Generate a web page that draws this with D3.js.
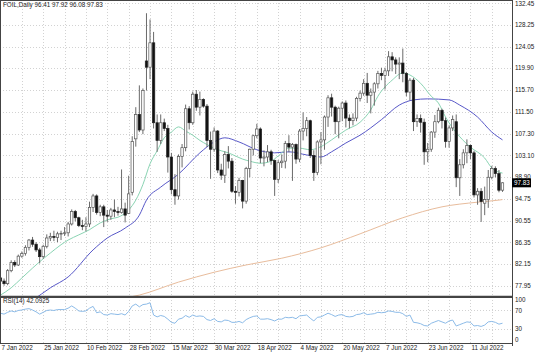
<!DOCTYPE html>
<html><head><meta charset="utf-8">
<script src="https://cdn.jsdelivr.net/npm/d3@7"></script>
<style>
body{margin:0;background:#fff}
svg{display:block}
text{font-family:"Liberation Sans",Arial,sans-serif;fill:#222}
</style>
</head><body>
<svg id="chart" width="536" height="355"></svg>
<script>
// ---------------- data ----------------
const symbolTitle = "FOIL,Daily  96.41 97.92 96.08 97.83";
const rsiTitle = "RSI(14) 42.0925";
const lastPrice = 97.83;

const openP = [79.5,78.9,78.4,80.9,82.5,82.0,83.7,84.2,85.4,86.8,86.0,84.9,83.6,85.6,87.2,87.5,87.3,88.0,88.1,88.2,
89.9,92.3,91.1,89.6,89.4,89.9,93.1,95.3,92.1,93.2,91.6,91.4,92.6,92.3,92.1,92.8,91.9,96.0,106.3,111.0,
108.0,121.3,120.1,124.8,109.4,106.0,109.4,108.3,102.8,96.5,95.3,102.9,104.6,112.1,109.4,114.9,112.4,113.9,112.6,106.0,
104.3,107.8,100.3,99.3,103.3,102.0,96.2,96.0,98.3,94.3,100.6,104.3,106.9,108.2,102.6,102.8,103.8,102.1,98.5,101.7,
102.0,105.4,104.7,105.2,102.4,107.8,108.3,109.8,103.1,99.8,105.7,106.1,110.5,114.2,112.4,109.6,112.2,113.2,110.3,109.8,
110.3,114.1,115.1,117.0,114.7,115.3,116.9,118.9,118.5,119.4,122.1,121.5,120.7,120.9,118.9,115.3,117.6,109.6,110.2,109.5,
103.8,104.3,107.6,109.6,111.8,109.8,105.8,108.4,109.6,98.8,101.3,103.6,105.0,103.6,95.5,96.2,93.9,94.6,98.9,100.6,
99.6,96.41];
const highP = [80.0,79.4,81.2,82.9,82.9,84.0,84.6,85.8,87.0,87.4,86.4,85.3,85.9,87.9,88.2,88.6,88.4,88.6,89.3,90.3,
92.7,92.6,91.3,90.7,91.2,94.2,95.7,95.6,93.6,93.6,92.6,93.0,94.6,93.2,100.4,94.0,99.2,106.8,112.4,116.6,
116.0,130.5,129.3,126.9,111.0,111.0,110.2,109.0,103.6,99.5,103.3,105.3,112.9,112.6,115.4,115.7,115.4,114.1,113.0,107.7,
108.5,108.0,101.5,103.9,104.9,102.6,97.2,98.8,98.4,100.9,104.4,107.1,109.2,108.5,104.1,105.1,104.2,102.3,102.2,103.3,
105.9,107.0,105.5,105.4,108.2,111.4,110.5,110.0,104.1,106.0,107.6,110.8,114.7,115.0,112.7,112.5,113.5,113.7,111.0,111.2,
114.4,115.6,117.8,119.0,116.0,117.2,119.4,120.0,120.0,123.2,123.0,122.0,122.0,123.7,119.2,118.0,118.0,111.0,111.0,110.2,
105.5,107.8,110.9,112.3,112.1,110.4,108.9,110.8,111.0,102.4,104.3,106.2,105.2,104.0,96.8,96.8,97.1,100.3,101.1,101.0,
100.3,97.92];
const lowP = [78.3,78.0,78.1,80.6,81.6,81.8,83.4,83.8,84.8,85.5,84.5,82.3,83.2,85.2,86.6,86.6,86.4,86.8,87.6,87.5,
89.6,90.4,89.3,88.7,88.5,89.3,92.2,91.7,91.4,89.3,90.3,90.7,91.2,91.5,91.9,90.2,91.8,95.4,104.8,107.6,
107.2,115.6,117.8,108.3,103.8,105.3,107.8,99.8,95.6,93.6,94.6,100.8,103.9,108.1,109.0,111.7,110.8,112.3,104.7,98.6,
103.8,99.7,98.4,97.8,100.6,95.9,93.8,95.2,92.9,93.8,98.9,103.1,106.4,101.6,101.0,101.8,101.3,95.3,97.8,100.7,
100.6,103.7,98.2,101.5,101.8,106.0,106.8,102.6,98.2,99.3,101.4,104.2,108.6,110.6,107.2,106.4,109.7,108.5,108.3,108.9,
109.7,113.5,114.6,113.2,111.2,112.7,116.0,117.6,115.8,118.4,119.3,118.8,117.8,117.2,114.5,113.7,107.8,108.6,107.5,101.3,
101.8,103.8,106.5,109.3,108.3,104.6,104.6,107.8,97.0,95.3,100.6,101.6,102.4,95.0,93.6,90.3,91.6,93.0,98.5,98.9,
96.0,96.08];
const closeP = [78.9,78.4,80.9,82.5,82.0,83.7,84.2,85.4,86.8,86.0,84.9,83.6,85.6,87.2,87.5,87.3,88.0,88.1,88.2,89.9,
92.3,91.1,89.6,89.4,89.9,93.1,95.3,92.1,93.2,91.6,91.4,92.6,92.3,92.1,92.8,91.6,95.7,105.8,111.0,108.0,
115.6,120.1,124.8,109.4,106.0,109.4,108.3,102.8,96.5,95.3,102.9,104.6,112.1,109.4,114.9,112.4,113.9,112.6,106.0,104.3,
107.8,100.3,99.3,103.3,102.0,96.2,96.0,98.3,94.3,100.6,104.3,106.9,108.2,102.6,102.8,103.8,102.1,98.5,101.7,102.0,
105.4,104.7,105.2,102.4,107.8,108.3,109.8,103.1,99.8,105.7,106.1,110.5,114.2,112.4,109.6,112.2,113.2,110.3,109.8,110.3,
114.1,115.1,117.0,114.7,115.3,116.9,118.9,118.5,119.4,122.1,121.5,120.7,120.9,118.9,115.3,117.6,109.6,110.2,109.5,103.8,
104.3,107.6,109.6,111.8,109.8,105.8,108.4,110.0,98.8,101.3,103.6,105.0,103.6,95.5,96.2,94.2,94.6,98.9,100.6,99.6,
96.4,97.83];

// fast moving average (green), read at bar indices
const maFastIdx = [0,3,6,9,12,14,17,19,22,25,28,31,33,36,38,40,42,44,46,48,50,52,54,56,58,60,62,64,66,68,70,73,76,78,81,84,87,90,93,97,101,104,106,110,113,115,118,121,123,125,129,132,136,138,141];
const maFastVal = [76.2,77.6,79.5,81.4,83.2,84.3,85.9,86.8,87.8,88.8,90.1,90.9,91.2,92.6,94.5,97.5,101.5,104.0,106.5,107.6,108.6,107.8,107.0,106.0,105.2,104.5,104.0,103.6,103.0,102.4,102.0,101.6,102.0,103.0,104.5,104.5,104.2,104.8,106.1,108.0,109.5,111.9,114.5,117.6,119.0,118.6,117.0,114.5,113.2,110.5,106.7,104.7,102.6,100.7,99.7];
// medium moving average (blue)
const maMidIdx = [0,5,9,14,19,26,30,35,39,41,45,50,56,60,63,67,72,77,81,86,90,93,97,101,107,112,116,120,126,129,134,138,141];
const maMidVal = [72.0,73.5,75.2,77.6,79.7,84.9,87.2,89.1,91.6,94.5,97.0,99.5,103.6,105.7,106.5,105.7,104.2,103.6,103.8,103.2,102.8,103.8,105.5,107.0,110.0,112.8,113.8,114.0,113.8,112.8,110.5,107.6,106.1];
// slow moving average (orange)
const maSlowIdx = [0,20,34,39,50,60,69,79,90,101,113,124,134,140,141];
const maSlowVal = [70.5,72.5,75.5,76.2,78.7,80.6,82.0,83.3,85.3,88.0,91.1,93.2,94.1,94.5,94.6];

// RSI(14) per bar
const rsiVal = [64,62,66,69,67,70,71,73,74,71,67,62,66,70,71,70,72,72,72,75,
80,75,69,68,69,75,79,65,67,61,60,63,62,61,63,60,68,80,84,78,
83,84,87,60,56,59,57,51,44,42,51,53,59,55,60,57,58,57,50,48,
52,46,45,49,48,44,44,46,43,50,54,57,58,51,51,52,50,47,51,51,
55,54,55,52,58,59,60,53,47,55,56,60,64,61,57,60,61,57,56,57,
61,62,65,61,62,63,66,65,66,69,68,66,66,63,57,60,44,43,41,37,
36,42,45,48,45,42,47,49,36,39,42,45,44,36,37,35,38,45,46,44,
40,42.09];

const priceTicks = [132.45,128.25,124.05,119.90,115.70,111.50,107.30,103.10,98.90,94.75,90.55,86.35,82.15,77.95];
const rsiTicks = [100,70,30,0];
const rsiLevels = [70,30];
const dateLabels = ["7 Jan 2022","25 Jan 2022","10 Feb 2022","28 Feb 2022","15 Mar 2022","30 Mar 2022","18 Apr 2022","4 May 2022","20 May 2022","7 Jun 2022","23 Jun 2022","11 Jul 2022"];
const dateLabelStep = 12;
const gridStep = 6;

// ---------------- layout ----------------
const W = 536, H = 355;
const plotRight = 512;
const mainTop = 0, mainBottom = 296;
const rsiTop = 297, rsiBottom = 343;
const n = closeP.length;

const svg = d3.select("#chart");
svg.append("rect").attr("width", W).attr("height", H).attr("fill", "#fff");

const x = d3.scaleLinear().domain([0, n - 1]).range([0.5, 502.5]);
const y = d3.scaleLinear().domain([77.95, 132.45]).range([286, 3.1]);
const yr = d3.scaleLinear().domain([0, 100]).range([342.4, 296.8]);

const defs = svg.append("defs");
defs.append("clipPath").attr("id", "clipMain").append("rect")
  .attr("x", 0).attr("y", mainTop).attr("width", plotRight).attr("height", mainBottom - mainTop);
defs.append("clipPath").attr("id", "clipRsi").append("rect")
  .attr("x", 0).attr("y", rsiTop).attr("width", plotRight).attr("height", rsiBottom - rsiTop);

const gridColor = "#d2d2d2";
const gridDash = "1,2";

// vertical grid
const vIdx = d3.range(gridStep, n + gridStep, gridStep).filter(i => x(i) < plotRight - 2);
const grid = svg.append("g");
grid.selectAll("line.vg").data(vIdx).join("line")
  .attr("x1", d => Math.round(x(d)) + 0.5).attr("x2", d => Math.round(x(d)) + 0.5)
  .attr("y1", mainTop).attr("y2", rsiBottom)
  .attr("stroke", gridColor).attr("stroke-dasharray", gridDash).attr("stroke-width", 1);
// horizontal grid main
grid.selectAll("line.hg").data(priceTicks).join("line")
  .attr("x1", 0).attr("x2", plotRight)
  .attr("y1", d => Math.round(y(d)) + 0.5).attr("y2", d => Math.round(y(d)) + 0.5)
  .attr("stroke", gridColor).attr("stroke-dasharray", gridDash);
// rsi levels
grid.selectAll("line.rg").data(rsiLevels).join("line")
  .attr("x1", 0).attr("x2", plotRight)
  .attr("y1", d => Math.round(yr(d)) + 0.5).attr("y2", d => Math.round(yr(d)) + 0.5)
  .attr("stroke", gridColor).attr("stroke-dasharray", gridDash);

// moving averages
const main = svg.append("g").attr("clip-path", "url(#clipMain)");
function maLine(idx, vals, color) {
  const pts = idx.map((d, k) => [d, vals[k]]);
  main.append("path").datum(pts)
    .attr("fill", "none").attr("stroke", color).attr("stroke-width", 1)
    .attr("d", d3.line().x(d => x(d[0])).y(d => y(d[1])).curve(d3.curveMonotoneX));
}
maLine(maSlowIdx, maSlowVal, "#e8bc9c");
maLine(maMidIdx, maMidVal, "#5858c8");
maLine(maFastIdx, maFastVal, "#8ad4b3");

// candles
const bars = d3.range(n).map(i => ({i, o: openP[i], h: highP[i], l: lowP[i], c: closeP[i]}));
const cg = main.append("g");
cg.selectAll("line.wick").data(bars).join("line")
  .attr("x1", d => x(d.i)).attr("x2", d => x(d.i))
  .attr("y1", d => y(d.h)).attr("y2", d => y(d.l))
  .attr("stroke", "#6a6a6a").attr("stroke-width", 1);
const bw = 2.4;
cg.selectAll("rect.body").data(bars).join("rect")
  .attr("x", d => x(d.i) - bw / 2).attr("width", bw)
  .attr("y", d => y(Math.max(d.o, d.c)))
  .attr("height", d => Math.max(0.8, Math.abs(y(d.o) - y(d.c))))
  .attr("fill", d => d.c >= d.o ? "#fff" : "#111")
  .attr("stroke", d => d.c >= d.o ? "#555" : "#222").attr("stroke-width", 0.7);

// RSI
const rg = svg.append("g").attr("clip-path", "url(#clipRsi)");
rg.append("path").datum(rsiVal)
  .attr("fill", "none").attr("stroke", "#8cbbe8").attr("stroke-width", 1)
  .attr("d", d3.line().x((d, i) => x(i)).y(d => yr(d)));

// frames
const frame = svg.append("g").attr("stroke", "#444").attr("fill", "none");
frame.append("line").attr("x1", 0.5).attr("x2", 0.5).attr("y1", 0).attr("y2", rsiBottom);
frame.append("line").attr("x1", plotRight + 0.5).attr("x2", plotRight + 0.5).attr("y1", 0).attr("y2", rsiBottom + 3);
frame.append("line").attr("x1", 0).attr("x2", plotRight).attr("y1", 0.5).attr("y2", 0.5);
frame.append("line").attr("x1", 0).attr("x2", plotRight).attr("y1", mainBottom + 0.5).attr("y2", mainBottom + 0.5).attr("stroke-width", 1.5);
frame.append("line").attr("x1", 0).attr("x2", plotRight).attr("y1", rsiTop + 0.5).attr("y2", rsiTop + 0.5);
frame.append("line").attr("x1", 0).attr("x2", plotRight).attr("y1", rsiBottom + 0.5).attr("y2", rsiBottom + 0.5);

// price axis labels
const fs = 6.3;
const fmt = d3.format(".2f");
svg.append("g").selectAll("text").data(priceTicks).join("text")
  .attr("x", 515).attr("y", d => Math.max(4, y(d)))
  .attr("dy", "0.35em").attr("font-size", fs)
  .text(d => fmt(d));

// rsi axis labels
svg.append("g").selectAll("text").data(rsiTicks).join("text")
  .attr("x", 515).attr("y", d => Math.min(340, Math.max(300, yr(d))))
  .attr("dy", "0.35em").attr("font-size", fs)
  .text(d => d);

// current price marker
const cy = y(lastPrice);
svg.append("rect").attr("x", plotRight).attr("y", cy - 4.5).attr("width", 19).attr("height", 9).attr("fill", "#000");
svg.append("text").attr("x", 514).attr("y", cy).attr("dy", "0.35em").attr("font-size", fs)
  .style("fill", "#fff").text(fmt(lastPrice));

// date labels
svg.append("g").selectAll("text").data(dateLabels).join("text")
  .attr("x", (d, k) => x(k * dateLabelStep) + 1).attr("y", 350)
  .attr("font-size", fs).text(d => d);

// titles
svg.append("text").attr("x", 3).attr("y", 7).attr("font-size", fs).text(symbolTitle);
svg.append("text").attr("x", 3).attr("y", 303).attr("font-size", fs).text(rsiTitle);
</script>
</body></html>
